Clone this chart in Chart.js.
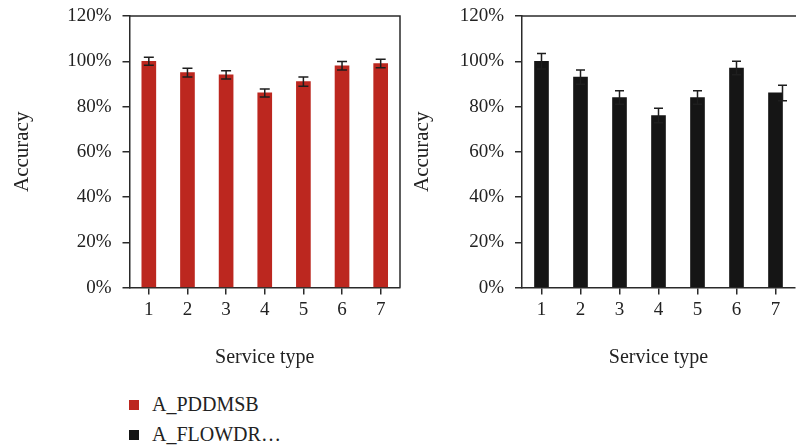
<!DOCTYPE html>
<html>
<head>
<meta charset="utf-8">
<script src="https://cdn.jsdelivr.net/npm/chart.js@4/dist/chart.umd.min.js"></script>
<style>
  html, body { margin: 0; padding: 0; background: #fff; overflow: hidden; }
  body { width: 796px; height: 447px; position: relative; font-family: 'Liberation Serif', serif; color: #222; }
  #leftWrap { position: absolute; left: 0; top: 0; width: 402px; height: 372px; }
  #rightWrap { position: absolute; left: 400px; top: 0; width: 400px; height: 372px; }
  .legend-row { position: absolute; left: 129px; height: 20px; font-size: 20px; line-height: 20px; white-space: nowrap; }
  .legend-row .sw { display: inline-block; width: 10px; height: 10px; margin-right: 13px; vertical-align: 1px; }
</style>
</head>
<body>
<div id="leftWrap"><canvas id="leftChart" width="402" height="372"></canvas></div>
<div id="rightWrap"><canvas id="rightChart" width="400" height="372"></canvas></div>
<div class="legend-row" id="legA" style="top:394px"><span class="sw" style="background:#BC271F"></span>A_PDDMSB</div>
<div class="legend-row" id="legB" style="top:424px"><span class="sw" style="background:#151515"></span>A_FLOWDR…</div>
<script>
// Service types on the x axis
const serviceTypes = ['1', '2', '3', '4', '5', '6', '7'];
// Accuracy (%) per service type
const pddmsbAccuracy = [100, 95, 94, 86, 91, 98, 99];
const pddmsbError = [1.8, 1.9, 1.8, 1.8, 2.0, 1.9, 1.9];
const flowdrAccuracy = [100, 93, 84, 76, 84, 97, 86];
const flowdrError = [3.4, 3.1, 3.0, 3.2, 3.0, 3.0, 3.4];
// y axis range
const yMin = 0, yMax = 120, yStep = 20;

const FONT = 'Liberation Serif';
const AXIS = '#2a2a2a';

// Error bars drawn on top of each bar
const errorBars = {
  id: 'errorBars',
  afterDatasetsDraw(chart, args, opts) {
    const ctx = chart.ctx;
    const y = chart.scales.y;
    chart.data.datasets.forEach((ds, di) => {
      const meta = chart.getDatasetMeta(di);
      const errs = ds.errors || [];
      meta.data.forEach((bar, i) => {
        const v = ds.data[i], e = errs[i];
        if (e == null) return;
        const x = bar.x + ((opts.shift && opts.shift[i]) || 0);
        const yt = y.getPixelForValue(v + e);
        const yb = y.getPixelForValue(v - e);
        ctx.save();
        ctx.strokeStyle = opts.color;
        ctx.lineWidth = opts.width;
        ctx.beginPath();
        ctx.moveTo(x, yt); ctx.lineTo(x, yb);
        ctx.moveTo(x - opts.cap, yt); ctx.lineTo(x + opts.cap, yt);
        ctx.moveTo(x - opts.cap, yb); ctx.lineTo(x + opts.cap, yb);
        ctx.stroke();
        ctx.restore();
      });
    });
  }
};

// Top (and optional right) edge of the plot frame
const frame = {
  id: 'frame',
  afterDraw(chart, args, opts) {
    const a = chart.chartArea, ctx = chart.ctx;
    ctx.save();
    ctx.strokeStyle = AXIS;
    ctx.lineWidth = 1.5;
    ctx.beginPath();
    ctx.moveTo(a.left, a.top);
    ctx.lineTo(opts.right ? a.right : chart.width, a.top);
    if (opts.right) ctx.lineTo(a.right, a.bottom);
    ctx.stroke();
    ctx.restore();
  }
};

function makeChart(id, values, errors, color, yWidth, padRight, frameRight, errOpts) {
  return new Chart(document.getElementById(id), {
    type: 'bar',
    data: {
      labels: serviceTypes,
      datasets: [{ data: values, errors: errors, backgroundColor: color, borderWidth: 0, barThickness: 14 }]
    },
    options: {
      responsive: false,
      animation: false,
      layout: { padding: { top: 16, right: padRight, bottom: 0, left: 0 } },
      plugins: {
        legend: { display: false },
        tooltip: { enabled: false },
        errorBars: errOpts,
        frame: { right: frameRight }
      },
      scales: {
        x: {
          grid: { display: true, drawOnChartArea: false, drawTicks: true, tickLength: 7, color: AXIS, lineWidth: 1.5, offset: false },
          border: { display: true, color: AXIS, width: 1.5 },
          ticks: { color: '#222', font: { family: FONT, size: 19 }, padding: 4 },
          title: { display: true, text: 'Service type', color: '#222', font: { family: FONT, size: 20 }, padding: { top: 0, bottom: 2 } },
          afterFit(s) { s.height = 84.4; s.paddingLeft = 0; s.paddingRight = 0; }
        },
        y: {
          min: yMin, max: yMax,
          grid: { display: true, drawOnChartArea: false, drawTicks: true, tickLength: 7, color: AXIS, lineWidth: 1.5 },
          border: { display: true, color: AXIS, width: 1.5 },
          ticks: { stepSize: yStep, color: '#222', font: { family: FONT, size: 19 }, padding: 11, callback: v => v + '%' },
          title: { display: true, text: 'Accuracy', color: '#222', font: { family: FONT, size: 21 }, padding: { top: 10, bottom: 0 } },
          afterFit(s) { s.width = yWidth; s.paddingTop = 0; s.paddingBottom = 0; }
        }
      }
    },
    plugins: [errorBars, frame]
  });
}

makeChart('leftChart', pddmsbAccuracy, pddmsbError, '#BC271F', 129.5, 2, true,
  { color: '#1e1e1e', width: 1.5, cap: 5 });
makeChart('rightChart', flowdrAccuracy, flowdrError, '#151515', 122, 5, false,
  { color: '#1e1e1e', width: 1.5, cap: 4.5, shift: [0, 0, 0, 0, 0, 0, 7] });
</script>
</body>
</html>
